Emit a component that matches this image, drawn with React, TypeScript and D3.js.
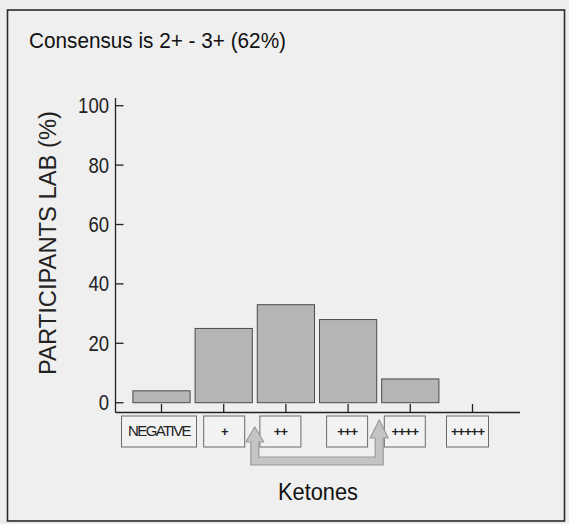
import React from "react";
import * as d3 from "d3";

const categories = ["NEGATIVE", "+", "++", "+++", "++++", "+++++"];
const boxLabels = ["NEGATIVE", "+", "++", "+++", "++++", "+++++"];
const values = [4, 25, 33, 28, 8, 0];
const yTicks = [0, 20, 40, 60, 80, 100];
const title = "Consensus is 2+ - 3+ (62%)";
const yTitle = "PARTICIPANTS LAB (%)";
const xTitle = "Ketones";

// layout (not data)
const W = 569;
const H = 524;
const boxOffsets = [-2.5, 0.5, -5.5, -1, -5.5, -5];
const boxWidths = [75, 41, 41, 41, 41, 42];

export default function App() {
  const y = d3.scaleLinear().domain([0, 100]).range([402.7, 105.7]);
  const x = d3
    .scaleBand<string>()
    .domain(categories)
    .range([130.4, 503.6])
    .paddingInner(0.08)
    .paddingOuter(0.04);
  const axisY = 412.5;
  const axisX = 115.5;
  const font = "'Liberation Sans', Arial, sans-serif";
  const bw = x.bandwidth();
  const cx = (c: string) => (x(c) as number) + bw / 2;

  // arrow between band gaps: "+"|"++" and "+++"|"++++"
  const gapL = ((x("+") as number) + bw + (x("++") as number)) / 2;
  const gapR = ((x("+++") as number) + bw + (x("++++") as number)) / 2;
  const sh = 4; // half shaft width
  const hh = 9; // half head width
  const arrowPts: [number, number][] = [
    [gapL, 427],
    [gapL + hh, 442],
    [gapL + sh, 442],
    [gapL + sh, 457],
    [gapR - sh, 457],
    [gapR - sh, 438],
    [gapR - hh, 438],
    [gapR, 420],
    [gapR + hh, 438],
    [gapR + sh, 438],
    [gapR + sh, 465],
    [gapL - sh, 465],
    [gapL - sh, 442],
    [gapL - hh, 442],
  ];
  const arrowPath = d3.line()(arrowPts) + "Z";

  return (
    <svg
      width={W}
      height={H}
      style={{ position: "absolute", left: 0, top: 0 }}
      fontFamily={font}
    >
      <rect x={0} y={0} width={W} height={H} fill="#ededed" />
      <rect
        x={7.5}
        y={10}
        width={557}
        height={511}
        fill="#efefef"
        stroke="#2a2a2a"
        strokeWidth={1.6}
      />
      <text
        x={29}
        y={48}
        fontSize={22}
        fill="#111"
        textLength={257}
        lengthAdjust="spacingAndGlyphs"
      >
        {title}
      </text>

      {/* bars */}
      {categories.map((c, i) =>
        values[i] > 0 ? (
          <rect
            key={c}
            x={x(c)}
            y={y(values[i])}
            width={bw}
            height={y(0) - y(values[i])}
            fill="#b5b5b5"
            stroke="#4a4a4a"
            strokeWidth={1}
          />
        ) : null
      )}

      {/* y axis */}
      <line x1={axisX} x2={axisX} y1={98} y2={axisY} stroke="#222" strokeWidth={1.3} />
      {yTicks.map((t) => (
        <g key={t}>
          <line x1={axisX} x2={axisX + 8} y1={y(t)} y2={y(t)} stroke="#222" strokeWidth={1.3} />
          <text
            x={109}
            y={y(t) + 7.5}
            fontSize={22}
            textAnchor="end"
            fill="#222"
            textLength={String(t).length * 10.3}
            lengthAdjust="spacingAndGlyphs"
          >
            {t}
          </text>
        </g>
      ))}
      <text
        transform={`translate(56,243) rotate(-90)`}
        fontSize={23}
        textAnchor="middle"
        fill="#222"
        textLength={264}
        lengthAdjust="spacingAndGlyphs"
      >
        {yTitle}
      </text>

      {/* x axis */}
      <line x1={axisX} x2={520} y1={axisY} y2={axisY} stroke="#222" strokeWidth={1.3} />
      {categories.map((c) => (
        <line key={c} x1={cx(c)} x2={cx(c)} y1={axisY} y2={404} stroke="#222" strokeWidth={1.3} />
      ))}

      {/* category boxes */}
      {categories.map((c, i) => {
        const bxc = cx(c) + boxOffsets[i];
        const w = boxWidths[i];
        return (
          <g key={c}>
            <rect
              x={bxc - w / 2}
              y={416}
              width={w}
              height={31}
              fill="#f2f2f2"
              stroke="#6a6a6a"
              strokeWidth={1}
            />
            <text
              x={bxc}
              y={436}
              fontSize={i === 0 ? 15 : 13}
              textAnchor="middle"
              fill="#222"
              letterSpacing={i === 0 ? -1.6 : -1}
              fontWeight={i === 0 ? "normal" : "bold"}
            >
              {boxLabels[i]}
            </text>
          </g>
        );
      })}

      {/* consensus arrow */}
      <path d={arrowPath} fill="#c4c4c4" stroke="#9a9a9a" strokeWidth={1.2} strokeLinejoin="round" />

      <text
        x={318}
        y={500}
        fontSize={23}
        textAnchor="middle"
        fill="#111"
        textLength={80}
        lengthAdjust="spacingAndGlyphs"
      >
        {xTitle}
      </text>
    </svg>
  );
}
